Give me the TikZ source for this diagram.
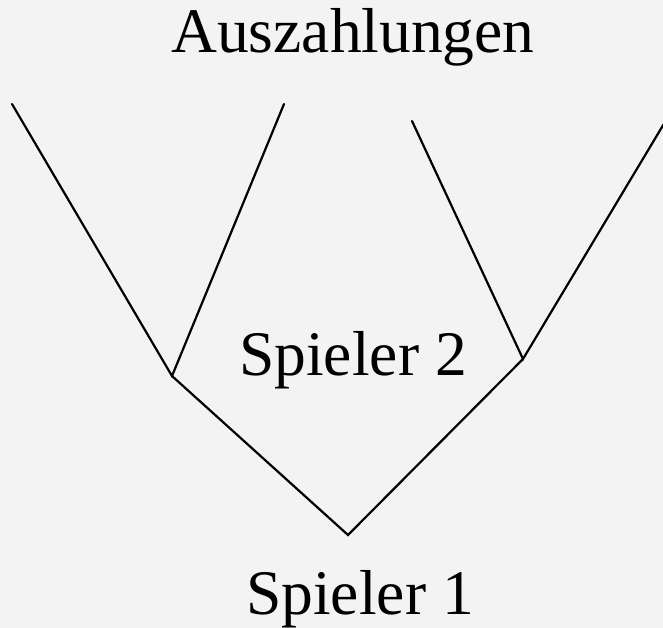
\documentclass[tikz,border=0pt]{standalone}
\usepackage{fontspec}
\setmainfont{Liberation Serif}
\definecolor{bg}{HTML}{F3F3F3}
\begin{document}
\begin{tikzpicture}[x=1pt,y=-1pt,
  edge/.style={line width=2.2pt,line cap=round},
  lbl/.style={font=\fontsize{63.5}{70}\selectfont,inner sep=0pt,anchor=base}]
\fill[bg] (0,0) rectangle (663,628);
\useasboundingbox (0,0) rectangle (663,628);
\coordinate (root) at (348,535);
\coordinate (n1) at (172,376);
\coordinate (n2) at (523,359);
\coordinate (l1) at (12,104);
\coordinate (l2) at (284,104);
\coordinate (l3) at (412,121);
\coordinate (l4) at (665,122);
\draw[edge] (l1) -- (n1) -- (l2);
\draw[edge] (l3) -- (n2) -- (l4);
\draw[edge] (n1) -- (root) -- (n2);
\node[lbl] (t0) at (353,53) {Auszahlungen};
\node[lbl] (t2) at (353,375) {Spieler 2};
\node[lbl] (t1) at (360,614) {Spieler 1};
\end{tikzpicture}
\end{document}
